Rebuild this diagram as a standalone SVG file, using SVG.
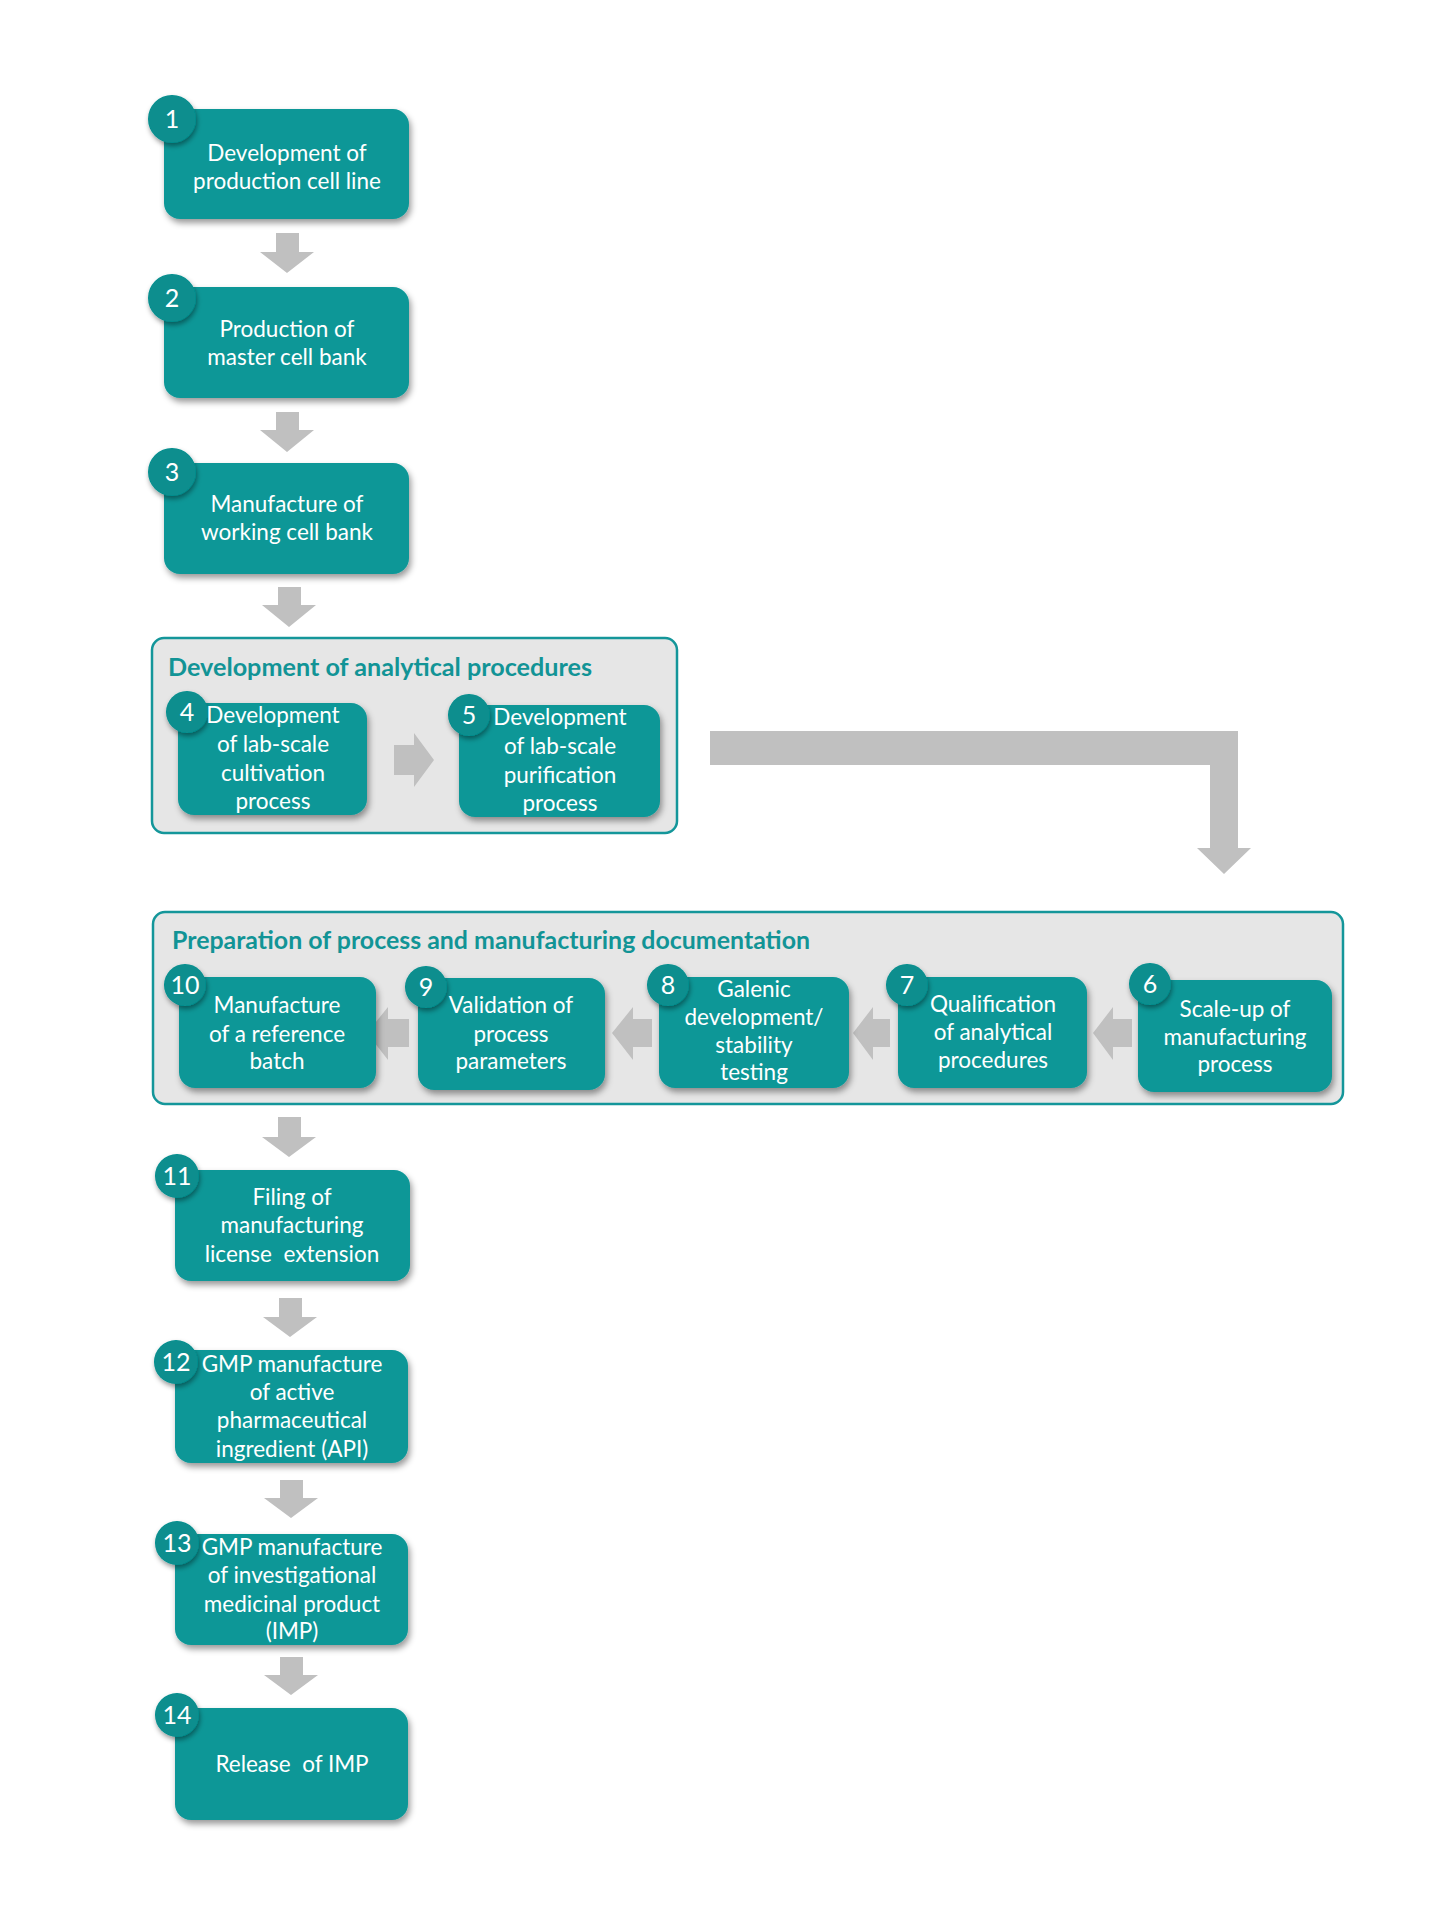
<svg xmlns="http://www.w3.org/2000/svg" width="1440" height="1920" viewBox="0 0 1440 1920">
<defs>
<filter id="sh" x="-20%" y="-20%" width="150%" height="160%">
<feDropShadow dx="2" dy="4" stdDeviation="3" flood-color="#000" flood-opacity="0.4"/>
</filter>
<filter id="shc" x="-40%" y="-40%" width="190%" height="190%">
<feDropShadow dx="1" dy="3" stdDeviation="2.5" flood-color="#000" flood-opacity="0.4"/>
</filter>
</defs>
<style>
.box{fill:#0a9797;filter:url(#sh)}
.num{fill:#078e8e;filter:url(#shc)}
.t{font-family:Lato,"Liberation Sans",sans-serif;font-size:22.5px;fill:#fff;text-anchor:middle}
.n{font-family:Lato,"Liberation Sans",sans-serif;font-size:25px;fill:#fff;text-anchor:middle}
.grp{fill:#e6e6e6;stroke:#14969a;stroke-width:2.5}
.gt{font-family:Lato,"Liberation Sans",sans-serif;font-size:25px;font-weight:bold;fill:#129496}
.arr{fill:#c0c0c0}
.pre{white-space:pre}
</style>
<rect x="0" y="0" width="1440" height="1920" fill="#fff"/>

<g id="group-analytical">
<rect class="grp" x="152" y="638" width="525" height="195" rx="12"/>
<text class="gt" x="168" y="676" textLength="424" lengthAdjust="spacingAndGlyphs">Development of analytical procedures</text>
</g>
<g id="group-documentation">
<rect class="grp" x="153" y="912" width="1190" height="192" rx="12"/>
<text class="gt" x="172" y="949" textLength="638" lengthAdjust="spacingAndGlyphs">Preparation of process and manufacturing documentation</text>
</g>

<g id="connectors">
<path class="arr" d="M276,233 H299 V252 H314 L287,273 L260,252 H276 Z"/>
<path class="arr" d="M276,412 H299 V430 H314 L287,452 L260,430 H276 Z"/>
<path class="arr" d="M278,587 H301 V605 H316 L289,627 L262,605 H278 Z"/>
<path class="arr" d="M394,745 H414 V733 L434,760 L414,787 V775 H394 Z"/>
<path class="arr" d="M710,731 H1238 V848 H1251 L1224,874 L1197,848 H1210 V765 H710 Z"/>
<path class="arr" d="M1132,1019 H1113 V1007 L1093,1033 L1113,1060 V1047 H1132 Z"/>
<path class="arr" d="M890,1019 H873 V1007 L853,1033 L873,1060 V1047 H890 Z"/>
<path class="arr" d="M652,1019 H633 V1007 L612,1033 L633,1060 V1047 H652 Z"/>
<path class="arr" d="M409,1019 H388 V1007 L367,1033 L388,1060 V1047 H409 Z"/>
<path class="arr" d="M278,1117 H301 V1137 H316 L289,1157 L262,1137 H278 Z"/>
<path class="arr" d="M279,1298 H302 V1317 H317 L290,1337 L263,1317 H279 Z"/>
<path class="arr" d="M280,1480 H303 V1498 H318 L291,1518 L264,1498 H280 Z"/>
<path class="arr" d="M280,1657 H303 V1675 H318 L291,1695 L264,1675 H280 Z"/>
</g>

<g id="node-1">
<rect class="box" x="164" y="109" width="245" height="110" rx="16"/>
<circle class="num" cx="172" cy="119" r="24"/>
<text class="n" x="172" y="128">1</text>
<text class="t" x="287" y="161">Development of</text>
<text class="t" x="287" y="189">production cell line</text>
</g>
<g id="node-2">
<rect class="box" x="164" y="287" width="245" height="111" rx="16"/>
<circle class="num" cx="172" cy="298" r="24"/>
<text class="n" x="172" y="307">2</text>
<text class="t" x="287" y="337">Production of</text>
<text class="t" x="287" y="365">master cell bank</text>
</g>
<g id="node-3">
<rect class="box" x="164" y="463" width="245" height="111" rx="16"/>
<circle class="num" cx="172" cy="472" r="24"/>
<text class="n" x="172" y="481">3</text>
<text class="t" x="287" y="512">Manufacture of</text>
<text class="t" x="287" y="540">working cell bank</text>
</g>
<g id="node-4">
<rect class="box" x="178" y="703" width="189" height="112" rx="16"/>
<circle class="num" cx="187" cy="712" r="21"/>
<text class="n" x="187" y="721">4</text>
<text class="t" x="273" y="723">Development</text>
<text class="t" x="273" y="752">of lab-scale</text>
<text class="t" x="273" y="781">cultivation</text>
<text class="t" x="273" y="809">process</text>
</g>
<g id="node-5">
<rect class="box" x="459" y="705" width="201" height="112" rx="16"/>
<circle class="num" cx="469" cy="715" r="21"/>
<text class="n" x="469" y="724">5</text>
<text class="t" x="560" y="725">Development</text>
<text class="t" x="560" y="754">of lab-scale</text>
<text class="t" x="560" y="783">purification</text>
<text class="t" x="560" y="811">process</text>
</g>
<g id="node-6">
<rect class="box" x="1138" y="980" width="194" height="112" rx="16"/>
<circle class="num" cx="1150" cy="984" r="21"/>
<text class="n" x="1150" y="993">6</text>
<text class="t" x="1235" y="1017">Scale-up of</text>
<text class="t" x="1235" y="1045">manufacturing</text>
<text class="t" x="1235" y="1072">process</text>
</g>
<g id="node-7">
<rect class="box" x="898" y="977" width="189" height="111" rx="16"/>
<circle class="num" cx="907" cy="985" r="21"/>
<text class="n" x="907" y="994">7</text>
<text class="t" x="993" y="1012">Qualification</text>
<text class="t" x="993" y="1040">of analytical</text>
<text class="t" x="993" y="1068">procedures</text>
</g>
<g id="node-8">
<rect class="box" x="659" y="977" width="190" height="111" rx="16"/>
<circle class="num" cx="668" cy="985" r="21"/>
<text class="n" x="668" y="994">8</text>
<text class="t" x="754" y="997">Galenic</text>
<text class="t" x="754" y="1025">development/</text>
<text class="t" x="754" y="1053">stability</text>
<text class="t" x="754" y="1080">testing</text>
</g>
<g id="node-9">
<rect class="box" x="418" y="978" width="187" height="112" rx="16"/>
<circle class="num" cx="426" cy="987" r="21"/>
<text class="n" x="426" y="996">9</text>
<text class="t" x="511" y="1013">Validation of</text>
<text class="t" x="511" y="1042">process</text>
<text class="t" x="511" y="1069">parameters</text>
</g>
<g id="node-10">
<rect class="box" x="179" y="977" width="197" height="111" rx="16"/>
<circle class="num" cx="185" cy="985" r="21"/>
<text class="n" x="185" y="994">10</text>
<text class="t" x="277" y="1013">Manufacture</text>
<text class="t" x="277" y="1042">of a reference</text>
<text class="t" x="277" y="1069">batch</text>
</g>
<g id="node-11">
<rect class="box" x="175" y="1170" width="235" height="111" rx="16"/>
<circle class="num" cx="177" cy="1176" r="22"/>
<text class="n" x="177" y="1185">11</text>
<text class="t" x="292" y="1205">Filing of</text>
<text class="t" x="292" y="1233">manufacturing</text>
<text class="t pre" x="292" y="1262" xml:space="preserve">license  extension</text>
</g>
<g id="node-12">
<rect class="box" x="175" y="1350" width="233" height="113" rx="16"/>
<circle class="num" cx="176" cy="1362" r="22"/>
<text class="n" x="176" y="1371">12</text>
<text class="t" x="292" y="1372">GMP manufacture</text>
<text class="t" x="292" y="1400">of active</text>
<text class="t" x="292" y="1428">pharmaceutical</text>
<text class="t" x="292" y="1457">ingredient (API)</text>
</g>
<g id="node-13">
<rect class="box" x="175" y="1534" width="233" height="111" rx="16"/>
<circle class="num" cx="177" cy="1543" r="22"/>
<text class="n" x="177" y="1552">13</text>
<text class="t" x="292" y="1555">GMP manufacture</text>
<text class="t" x="292" y="1583">of investigational</text>
<text class="t" x="292" y="1612">medicinal product</text>
<text class="t" x="292" y="1639">(IMP)</text>
</g>
<g id="node-14">
<rect class="box" x="175" y="1708" width="233" height="112" rx="16"/>
<circle class="num" cx="177" cy="1715" r="22"/>
<text class="n" x="177" y="1724">14</text>
<text class="t pre" x="292" y="1772" xml:space="preserve">Release  of IMP</text>
</g>
</svg>
